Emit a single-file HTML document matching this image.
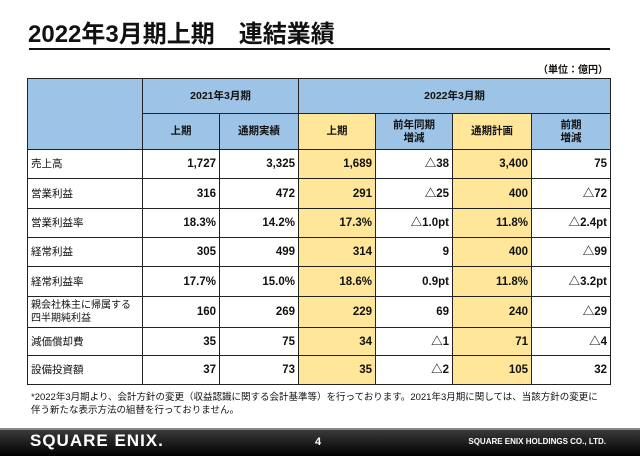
<!DOCTYPE html>
<html><head><meta charset="utf-8"><style>
body{margin:0;width:640px;height:454px;background:#fff;position:relative;overflow:hidden;font-family:"Liberation Sans","Noto Sans CJK JP",sans-serif;color:#111}
.t{position:absolute}
#title{left:28px;top:14px;font-size:24px;font-weight:bold}
#rule{left:29px;top:48px;width:581px;height:2px;background:#111}
#unit{right:32px;top:61px;font-size:10px;font-weight:bold}
table{position:absolute;left:27px;top:78px;border-collapse:collapse;table-layout:fixed}
td{border:1.4px solid #222;font-size:11.5px;padding:0 3px;box-sizing:border-box;line-height:12px;overflow:hidden}
.h{background:#9dc3e6;text-align:center;font-weight:bold;font-size:10.5px;line-height:13px}
.y{background:#ffe699}
.n{text-align:right;font-weight:bold}
.l{font-size:10.5px;white-space:nowrap}
#note{left:31px;top:391px;font-size:9.5px;line-height:13px}
#footer{left:0;top:428px;width:640px;height:26px;background:linear-gradient(#3a3a3a,#000);border-top:2px solid #888}
#logo{left:30px;top:431px;color:#fff;font-size:17px;font-weight:bold;letter-spacing:1px}
#pg{left:315px;top:436px;color:#fff;font-size:11px;font-weight:bold}
#co{right:34px;top:437px;color:#fff;font-size:8px;font-weight:bold}
</style></head><body>
<div class="t" id="title">2022年3月期上期　連結業績</div>
<div class="t" id="rule"></div>
<div class="t" id="unit">（単位：億円）</div>
<table>
<colgroup><col style="width:115px"><col style="width:77px"><col style="width:79px"><col style="width:77px"><col style="width:77px"><col style="width:79px"><col style="width:79px"></colgroup>
<tr style="height:35px"><td class="h" rowspan="2"></td><td class="h" colspan="2">2021年3月期</td><td class="h" colspan="4">2022年3月期</td></tr>
<tr style="height:36px"><td class="h">上期</td><td class="h">通期実績</td><td class="h y">上期</td><td class="h">前年同期<br>増減</td><td class="h y">通期計画</td><td class="h">前期<br>増減</td></tr>
<tr style="height:29px"><td class="l">売上高</td><td class="n">1,727</td><td class="n">3,325</td><td class="n y">1,689</td><td class="n">△38</td><td class="n y">3,400</td><td class="n">75</td></tr>
<tr style="height:30px"><td class="l">営業利益</td><td class="n">316</td><td class="n">472</td><td class="n y">291</td><td class="n">△25</td><td class="n y">400</td><td class="n">△72</td></tr>
<tr style="height:29px"><td class="l">営業利益率</td><td class="n">18.3%</td><td class="n">14.2%</td><td class="n y">17.3%</td><td class="n">△1.0pt</td><td class="n y">11.8%</td><td class="n">△2.4pt</td></tr>
<tr style="height:29px"><td class="l">経常利益</td><td class="n">305</td><td class="n">499</td><td class="n y">314</td><td class="n">9</td><td class="n y">400</td><td class="n">△99</td></tr>
<tr style="height:30px"><td class="l">経常利益率</td><td class="n">17.7%</td><td class="n">15.0%</td><td class="n y">18.6%</td><td class="n">0.9pt</td><td class="n y">11.8%</td><td class="n">△3.2pt</td></tr>
<tr style="height:31px"><td class="l" style="line-height:13px;font-size:10px">親会社株主に帰属する<br>四半期純利益</td><td class="n">160</td><td class="n">269</td><td class="n y">229</td><td class="n">69</td><td class="n y">240</td><td class="n">△29</td></tr>
<tr style="height:28px"><td class="l">減価償却費</td><td class="n">35</td><td class="n">75</td><td class="n y">34</td><td class="n">△1</td><td class="n y">71</td><td class="n">△4</td></tr>
<tr style="height:29px"><td class="l">設備投資額</td><td class="n">37</td><td class="n">73</td><td class="n y">35</td><td class="n">△2</td><td class="n y">105</td><td class="n">32</td></tr>
</table>
<div class="t" id="note">*2022年3月期より、会計方針の変更（収益認識に関する会計基準等）を行っております。2021年3月期に関しては、当該方針の変更に<br>伴う新たな表示方法の組替を行っておりません。</div>
<div class="t" id="footer"></div>
<div class="t" id="logo">SQUARE ENIX.</div>
<div class="t" id="pg">4</div>
<div class="t" id="co">SQUARE ENIX HOLDINGS CO., LTD.</div>
</body></html>
